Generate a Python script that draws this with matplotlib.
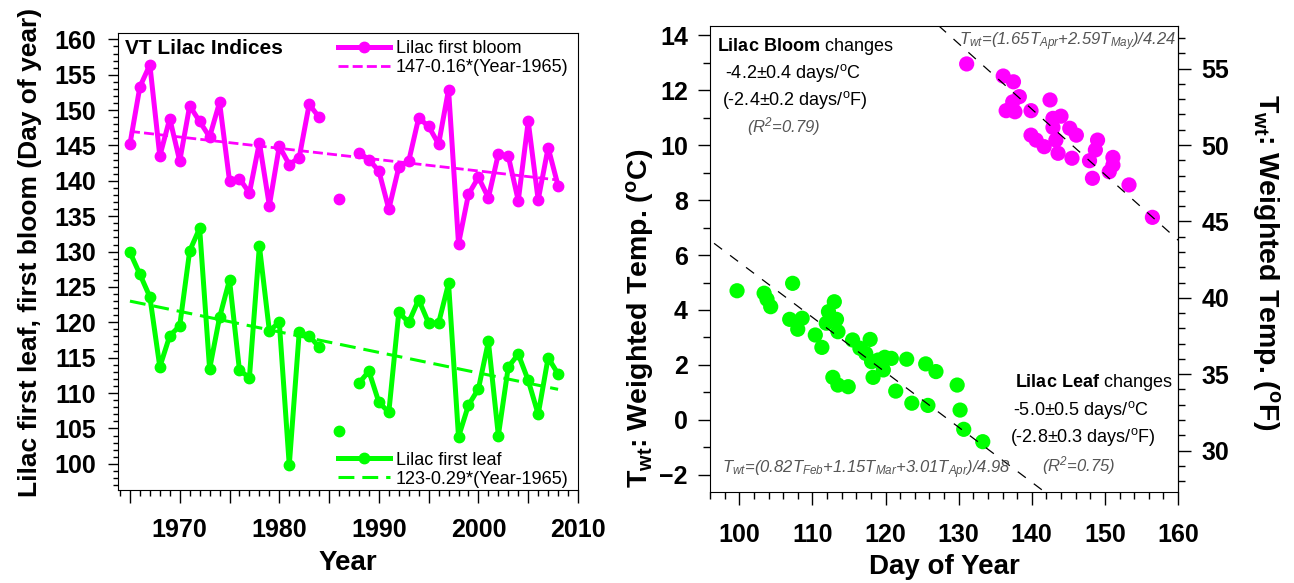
import numpy as np
import matplotlib
matplotlib.use("Agg")
import matplotlib.pyplot as plt
from matplotlib.ticker import MultipleLocator, FuncFormatter

plt.rcParams['font.family'] = ['Liberation Sans', 'DejaVu Sans']
plt.rcParams['mathtext.fontset'] = 'custom'
plt.rcParams['mathtext.rm'] = 'Liberation Sans'
plt.rcParams['mathtext.it'] = 'Liberation Sans:italic'
plt.rcParams['mathtext.bf'] = 'Liberation Sans:bold'
plt.rcParams['mathtext.default'] = 'regular'

MAGENTA = '#ff00ff'
GREEN = '#00ff00'
GREY = '#555555'
nan = np.nan

# ---- left panel: lilac first bloom / first leaf by year ----
years = np.arange(1965, 2009)
bloom = [145.2, 153.3, 156.4, 143.5, 148.8, 142.8, 150.6, 148.4, 146.2, 151.1,
         140.0, 140.3, 138.3, 145.4, 136.5, 144.9, 142.3, 143.3, 150.8, 149.0,
         nan, 137.5, nan, 144.0, 143.0, 141.4, 136.0, 141.9, 142.8, 148.9,
         147.7, 145.2, 152.9, 131.1, 138.1, 140.5, 137.6, 143.8, 143.5, 137.2,
         148.4, 137.3, 144.7, 139.3]
leaf = [129.9, 126.8, 123.6, 113.7, 118.1, 119.5, 130.1, 133.3, 113.4, 120.7,
        126.0, 113.2, 112.2, 130.8, 118.8, 120.0, 99.8, 118.6, 118.1, 116.5,
        nan, 104.6, nan, 111.4, 113.1, 108.7, 107.3, 121.4, 120.0, 123.2,
        119.9, 119.9, 125.5, 103.8, 108.3, 110.6, 117.3, 104.0, 113.7, 115.5,
        111.8, 107.0, 115.0, 112.7]
trend_years = np.array([1965, 2008])
bloom_trend = (147, -0.16)   # intercept, slope per year since 1965
leaf_trend = (123, -0.29)

# ---- right panel: weighted temperature vs day of year ----
leaf_day = [99.7, 103.4, 103.8, 104.3, 107.3, 106.9, 108.6, 108.0, 110.4, 111.3,
            111.9, 112.2, 113.0, 113.3, 113.5, 112.8, 113.5, 114.9, 115.5, 117.9,
            116.5, 117.3, 118.1, 119.0, 119.9, 120.8, 118.3, 119.7, 121.4, 122.9,
            123.6, 125.5, 126.9, 125.8, 129.8, 130.2, 130.7, 133.3]
leaf_twt = [4.70, 4.61, 4.39, 4.12, 4.97, 3.66, 3.70, 3.30, 3.09, 2.64,
            3.52, 3.94, 4.30, 3.66, 3.21, 1.55, 1.27, 1.21, 2.91, 2.93,
            2.61, 2.42, 2.12, 2.18, 2.28, 2.24, 1.55, 1.82, 1.05, 2.21,
            0.61, 2.04, 1.76, 0.53, 1.27, 0.36, -0.34, -0.79]
bloom_day = [131.1, 136.1, 137.5, 138.3, 137.4, 136.5, 137.7, 139.9, 142.5, 142.9,
             144.0, 142.9, 145.2, 146.1, 139.9, 140.6, 141.7, 143.3, 143.6, 145.5,
             149.0, 148.7, 147.9, 151.1, 151.1, 150.6, 148.3, 153.3, 156.5]
bloom_twt = [12.95, 12.51, 12.30, 11.76, 11.57, 11.25, 11.21, 11.25, 11.64, 10.97,
             11.05, 10.64, 10.61, 10.36, 10.36, 10.18, 9.94, 10.18, 9.70, 9.52,
             10.18, 9.82, 9.43, 9.55, 9.27, 9.03, 8.79, 8.55, 7.37]
bloom_days_per_c = -4.2
leaf_days_per_c = -5.0


def c2f(c):
    return c * 9 / 5 + 32


def f2c(f):
    return (f - 32) * 5 / 9


def bold_ticks(axis):
    for lbl in axis.get_ticklabels():
        lbl.set_fontweight('bold')


fig = plt.figure(figsize=(12.94, 5.83), dpi=100)
ax1 = fig.add_axes([118 / 1294, 93 / 583, 460 / 1294, 457 / 583])
ax2 = fig.add_axes([710 / 1294, 91 / 583, 468 / 1294, 466 / 583])

# left panel
ln_b, = ax1.plot(years, bloom, '-o', color=MAGENTA, lw=3.6, ms=7.5,
                 label='Lilac first bloom')
tr_b, = ax1.plot(trend_years, bloom_trend[0] + bloom_trend[1] * (trend_years - 1965),
                 color=MAGENTA, lw=2, dashes=(3.6, 1.5), label='147-0.16*(Year-1965)')
ln_l, = ax1.plot(years, leaf, '-o', color=GREEN, lw=3.6, ms=7.5,
                 label='Lilac first leaf')
tr_l, = ax1.plot(trend_years, leaf_trend[0] + leaf_trend[1] * (trend_years - 1965),
                 color=GREEN, lw=2.2, dashes=(5.2, 2.6), label='123-0.29*(Year-1965)')

leg1 = ax1.legend(handles=[ln_b, tr_b], loc='upper left', bbox_to_anchor=(0.478, 0.985),
                  frameon=False, fontsize=13, handlelength=2.9, handletextpad=0.3,
                  labelspacing=0.12, borderpad=0, borderaxespad=0)
ax1.add_artist(leg1)
ax1.legend(handles=[ln_l, tr_l], loc='lower left', bbox_to_anchor=(0.478, 0.005),
           frameon=False, fontsize=13, handlelength=2.9, handletextpad=0.3,
           labelspacing=0.12, borderpad=0, borderaxespad=0)
ax1.text(0.015, 0.967, 'VT Lilac Indices', transform=ax1.transAxes, fontsize=15,
         fontweight='bold', va='center', ha='left')

ax1.set_xlim(1963.8, 2010)
ax1.set_ylim(96.3, 160.9)
ax1.xaxis.set_major_locator(MultipleLocator(5))
ax1.xaxis.set_minor_locator(MultipleLocator(1))
ax1.xaxis.set_major_formatter(FuncFormatter(lambda v, p: f'{int(v)}' if v % 10 == 0 else ''))
ax1.yaxis.set_major_locator(MultipleLocator(5))
ax1.yaxis.set_minor_locator(MultipleLocator(1))
ax1.tick_params(axis='x', which='major', length=9, width=1, labelsize=18, pad=11)
ax1.tick_params(axis='x', which='minor', length=4.5, width=1)
ax1.tick_params(axis='y', which='major', length=7, width=1, labelsize=18, pad=9)
ax1.tick_params(axis='y', which='minor', length=3.5, width=1)
ax1.set_xlabel('Year', fontsize=20, fontweight='bold', labelpad=6)
bold_ticks(ax1.xaxis)
bold_ticks(ax1.yaxis)
fig.text(30 / 1294, 1 - 252 / 583, 'Lilac first leaf, first bloom (Day of year)',
         rotation=90, ha='center', va='center', fontsize=19, fontweight='bold')

# right panel
ax2.scatter(leaf_day, leaf_twt, s=120, color=GREEN, edgecolors='none', zorder=2)
ax2.scatter(bloom_day, bloom_twt, s=120, color=MAGENTA, edgecolors='none', zorder=2)

xfit = np.array([90.0, 170.0])
for days, twt, k in [(bloom_day, bloom_twt, bloom_days_per_c),
                     (leaf_day, leaf_twt, leaf_days_per_c)]:
    yfit = np.mean(twt) + (xfit - np.mean(days)) / k
    ax2.plot(xfit, yfit, color='black', lw=0.9, dashes=(8, 8), zorder=3)

ax2.set_xlim(96, 160)
ax2.set_ylim(-2.62, 14.33)
ax2.xaxis.set_major_locator(MultipleLocator(10))
ax2.xaxis.set_minor_locator(MultipleLocator(2))
ax2.yaxis.set_major_locator(MultipleLocator(2))
ax2.yaxis.set_minor_locator(MultipleLocator(1))
ax2.tick_params(axis='x', which='major', length=9, width=1, labelsize=18, pad=13)
ax2.tick_params(axis='x', which='minor', length=5, width=1)
ax2.tick_params(axis='y', which='major', length=9, width=1, labelsize=18, pad=7)
ax2.tick_params(axis='y', which='minor', length=5, width=1)
ax2.set_xlabel('Day of Year', fontsize=20, fontweight='bold', labelpad=5)
bold_ticks(ax2.xaxis)
bold_ticks(ax2.yaxis)

sec = ax2.secondary_yaxis('right', functions=(c2f, f2c))
sec.yaxis.set_major_locator(MultipleLocator(5))
sec.yaxis.set_minor_locator(MultipleLocator(1))
sec.tick_params(axis='y', which='major', length=9, width=1, labelsize=18, pad=8)
sec.tick_params(axis='y', which='minor', length=5, width=1)
bold_ticks(sec.yaxis)

fig.text(640 / 1294, 1 - 318 / 583, r'$T_{wt}$: Weighted Temp. ($^{o}$C)',
         rotation=90, ha='center', va='center', fontsize=20.5, fontweight='bold')
fig.text(1266 / 1294, 1 - 262 / 583, r'$T_{wt}$: Weighted Temp. ($^{o}$F)',
         rotation=270, ha='center', va='center', fontsize=20.5, fontweight='bold')

# annotations
ax2.text(0.015, 0.957, r'$\mathbf{Lilac\ Bloom}$ changes', transform=ax2.transAxes,
         fontsize=13, va='center')
ax2.text(0.032, 0.899, '-4.2\u00b10.4 days/$^{o}$C', transform=ax2.transAxes,
         fontsize=13, va='center')
ax2.text(0.026, 0.841, '(-2.4\u00b10.2 days/$^{o}$F)', transform=ax2.transAxes,
         fontsize=13, va='center')
ax2.text(0.079, 0.785, '($R^{2}$=0.79)', transform=ax2.transAxes, fontsize=12,
         style='italic', color=GREY, va='center')

ax2.text(0.652, 0.234, r'$\mathbf{Lilac\ Leaf}$ changes', transform=ax2.transAxes,
         fontsize=13, va='center')
ax2.text(0.647, 0.176, '-5.0\u00b10.5 days/$^{o}$C', transform=ax2.transAxes,
         fontsize=13, va='center')
ax2.text(0.641, 0.118, '(-2.8\u00b10.3 days/$^{o}$F)', transform=ax2.transAxes,
         fontsize=13, va='center')
ax2.text(0.709, 0.056, '($R^{2}$=0.75)', transform=ax2.transAxes, fontsize=12,
         style='italic', color=GREY, va='center')

ax2.text(0.996, 0.959, '$T_{wt}$=(1.65$T_{Apr}$+2.59$T_{May}$)/4.24',
         transform=ax2.transAxes, fontsize=12, style='italic', color=GREY,
         ha='right', va='baseline')
ax2.text(0.026, 0.041, '$T_{wt}$=(0.82$T_{Feb}$+1.15$T_{Mar}$+3.01$T_{Apr}$)/4.98',
         transform=ax2.transAxes, fontsize=12, style='italic', color=GREY,
         ha='left', va='baseline')

fig.savefig('out.png', dpi=100)
